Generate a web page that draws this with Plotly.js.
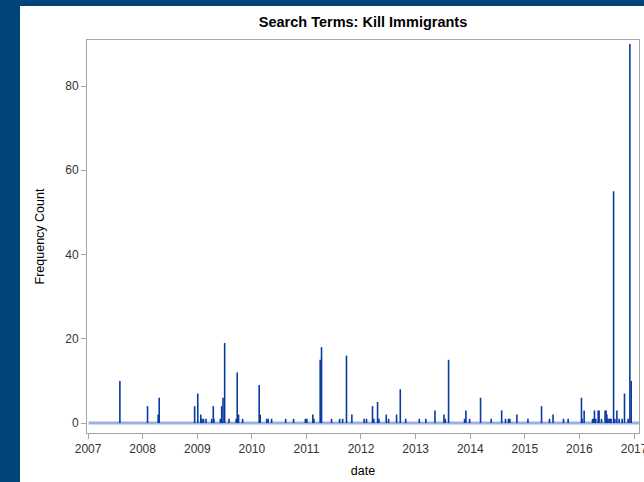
<!DOCTYPE html>
<html>
<head>
<meta charset="utf-8">
<script src="https://cdn.plot.ly/plotly-3.0.1.min.js"></script>
<style>
  html, body { margin: 0; padding: 0; background: #00457a; width: 644px; height: 482px; overflow: hidden; }
  #chart { position: absolute; left: 20px; top: 6px; width: 624px; height: 476px; background: #ffffff; overflow: hidden; }
</style>
</head>
<body>
<div id="chart"></div>
<script>
// Search dates (needle positions) and frequency counts
const dates = [
  '2007-08-02', '2008-02-03', '2008-04-14', '2008-04-21', '2008-12-14',
  '2009-01-04', '2009-01-24', '2009-02-01', '2009-02-11', '2009-02-28',
  '2009-04-07', '2009-04-18', '2009-04-22', '2009-06-04', '2009-06-13',
  '2009-06-22', '2009-07-03', '2009-08-01', '2009-09-18', '2009-09-25',
  '2009-10-04', '2009-10-31', '2010-02-19', '2010-02-26', '2010-04-10',
  '2010-04-20', '2010-05-13', '2010-08-15', '2010-10-07', '2010-12-25',
  '2011-01-04', '2011-02-13', '2011-02-20', '2011-04-03', '2011-04-12',
  '2011-06-18', '2011-08-11', '2011-08-31', '2011-09-26', '2011-11-01',
  '2012-01-22', '2012-02-07', '2012-03-18', '2012-03-27', '2012-04-21',
  '2012-04-30', '2012-06-18', '2012-07-04', '2012-08-26', '2012-09-20',
  '2012-10-26', '2013-01-25', '2013-03-10', '2013-05-10', '2013-07-09',
  '2013-07-18', '2013-08-09', '2013-11-24', '2013-12-03', '2013-12-28',
  '2014-03-11', '2014-05-21', '2014-07-30', '2014-08-25', '2014-09-14',
  '2014-09-23', '2014-11-09', '2015-01-22', '2015-04-23', '2015-06-15',
  '2015-07-09', '2015-09-17', '2015-10-18', '2016-01-15', '2016-01-19',
  '2016-02-02', '2016-03-29', '2016-04-07', '2016-04-11', '2016-04-20',
  '2016-05-06', '2016-05-12', '2016-05-28', '2016-06-21', '2016-06-28',
  '2016-07-03', '2016-07-10', '2016-07-18', '2016-07-26', '2016-07-31',
  '2016-08-17', '2016-08-25', '2016-09-08', '2016-09-23', '2016-10-13',
  '2016-10-29', '2016-11-22', '2016-12-04', '2016-12-13'
];
const counts = [
  10, 4, 2, 6, 4,
  7, 2, 1, 1, 1,
  1, 4, 1, 1, 4,
  6, 19, 1, 1, 12,
  2, 1, 9, 2, 1,
  1, 1, 1, 1, 1,
  1, 2, 1, 15, 18,
  1, 1, 1, 16, 2,
  1, 1, 4, 1, 5,
  1, 2, 1, 2, 8,
  1, 1, 1, 3, 2,
  1, 15, 1, 3, 1,
  6, 1, 3, 1, 1,
  1, 2, 1, 4, 1,
  2, 1, 1, 6, 1,
  3, 1, 1, 3, 1,
  3, 3, 1, 3, 3,
  2, 1, 1, 1, 1,
  55, 1, 3, 1, 1,
  7, 1, 90, 10
];
const yTicks = [0, 20, 40, 60, 80];
const xTickVals = ['2007-01-01','2008-01-01','2009-01-01','2010-01-01','2011-01-01','2012-01-01',
                   '2013-01-01','2014-01-01','2015-01-01','2016-01-01','2017-01-01'];
const xTickText = ['2007','2008','2009','2010','2011','2012','2013','2014','2015','2016','2017'];

// Build needle segments from the data
const nx = [], ny = [];
for (let i = 0; i < dates.length; i++) {
  nx.push(dates[i], dates[i], null);
  ny.push(0, counts[i], null);
}

const axisColor = '#a6a6a6';
const fam = 'Liberation Sans, Arial, sans-serif';
const tickFont = { family: fam, size: 12, color: '#333333' };

const traces = [{
  x: nx, y: ny, type: 'scatter', mode: 'lines',
  line: { color: '#0a3aa0', width: 1.6 },
  hoverinfo: 'skip', showlegend: false
}];

const layout = {
  width: 624, height: 476,
  margin: { l: 67, r: 5, t: 34, b: 49, pad: 0 },
  paper_bgcolor: '#ffffff', plot_bgcolor: '#ffffff',
  showlegend: false,
  title: {
    text: 'Search Terms: Kill Immigrants',
    font: { family: fam, size: 14.5, color: '#000000', weight: 'bold' },
    x: 0.5, xref: 'paper', xanchor: 'center', y: 1, yref: 'container', yanchor: 'top', pad: { t: 11 }
  },
  xaxis: {
    type: 'date',
    range: ['2006-12-25', '2017-02-03'],
    tickmode: 'array', tickvals: xTickVals, ticktext: xTickText,
    ticks: 'outside', ticklen: 5, tickcolor: axisColor, tickwidth: 1,
    tickfont: tickFont, ticklabeloverflow: 'allow',
    showline: true, linecolor: axisColor, linewidth: 1, mirror: true,
    showgrid: false, zeroline: false,
    title: { text: 'date', font: { family: fam, size: 12.5, color: '#000000' }, standoff: 10 }
  },
  yaxis: {
    range: [-2.37, 90.92],
    tickmode: 'array', tickvals: yTicks,
    ticks: 'outside', ticklen: 5, tickcolor: axisColor, tickwidth: 1,
    tickfont: tickFont,
    showline: true, linecolor: axisColor, linewidth: 1, mirror: true,
    showgrid: false, zeroline: false,
    title: { text: 'Frequency Count', font: { family: fam, size: 12.5, color: '#000000' }, standoff: 17 }
  },
  shapes: [{
    type: 'line', xref: 'paper', yref: 'y', x0: 0.003, x1: 1, y0: 0, y1: 0,
    line: { color: 'rgba(90,125,200,0.6)', width: 3 }, layer: 'below'
  }]
};

Plotly.newPlot('chart', traces, layout, { displayModeBar: false, staticPlot: true });
</script>
</body>
</html>
